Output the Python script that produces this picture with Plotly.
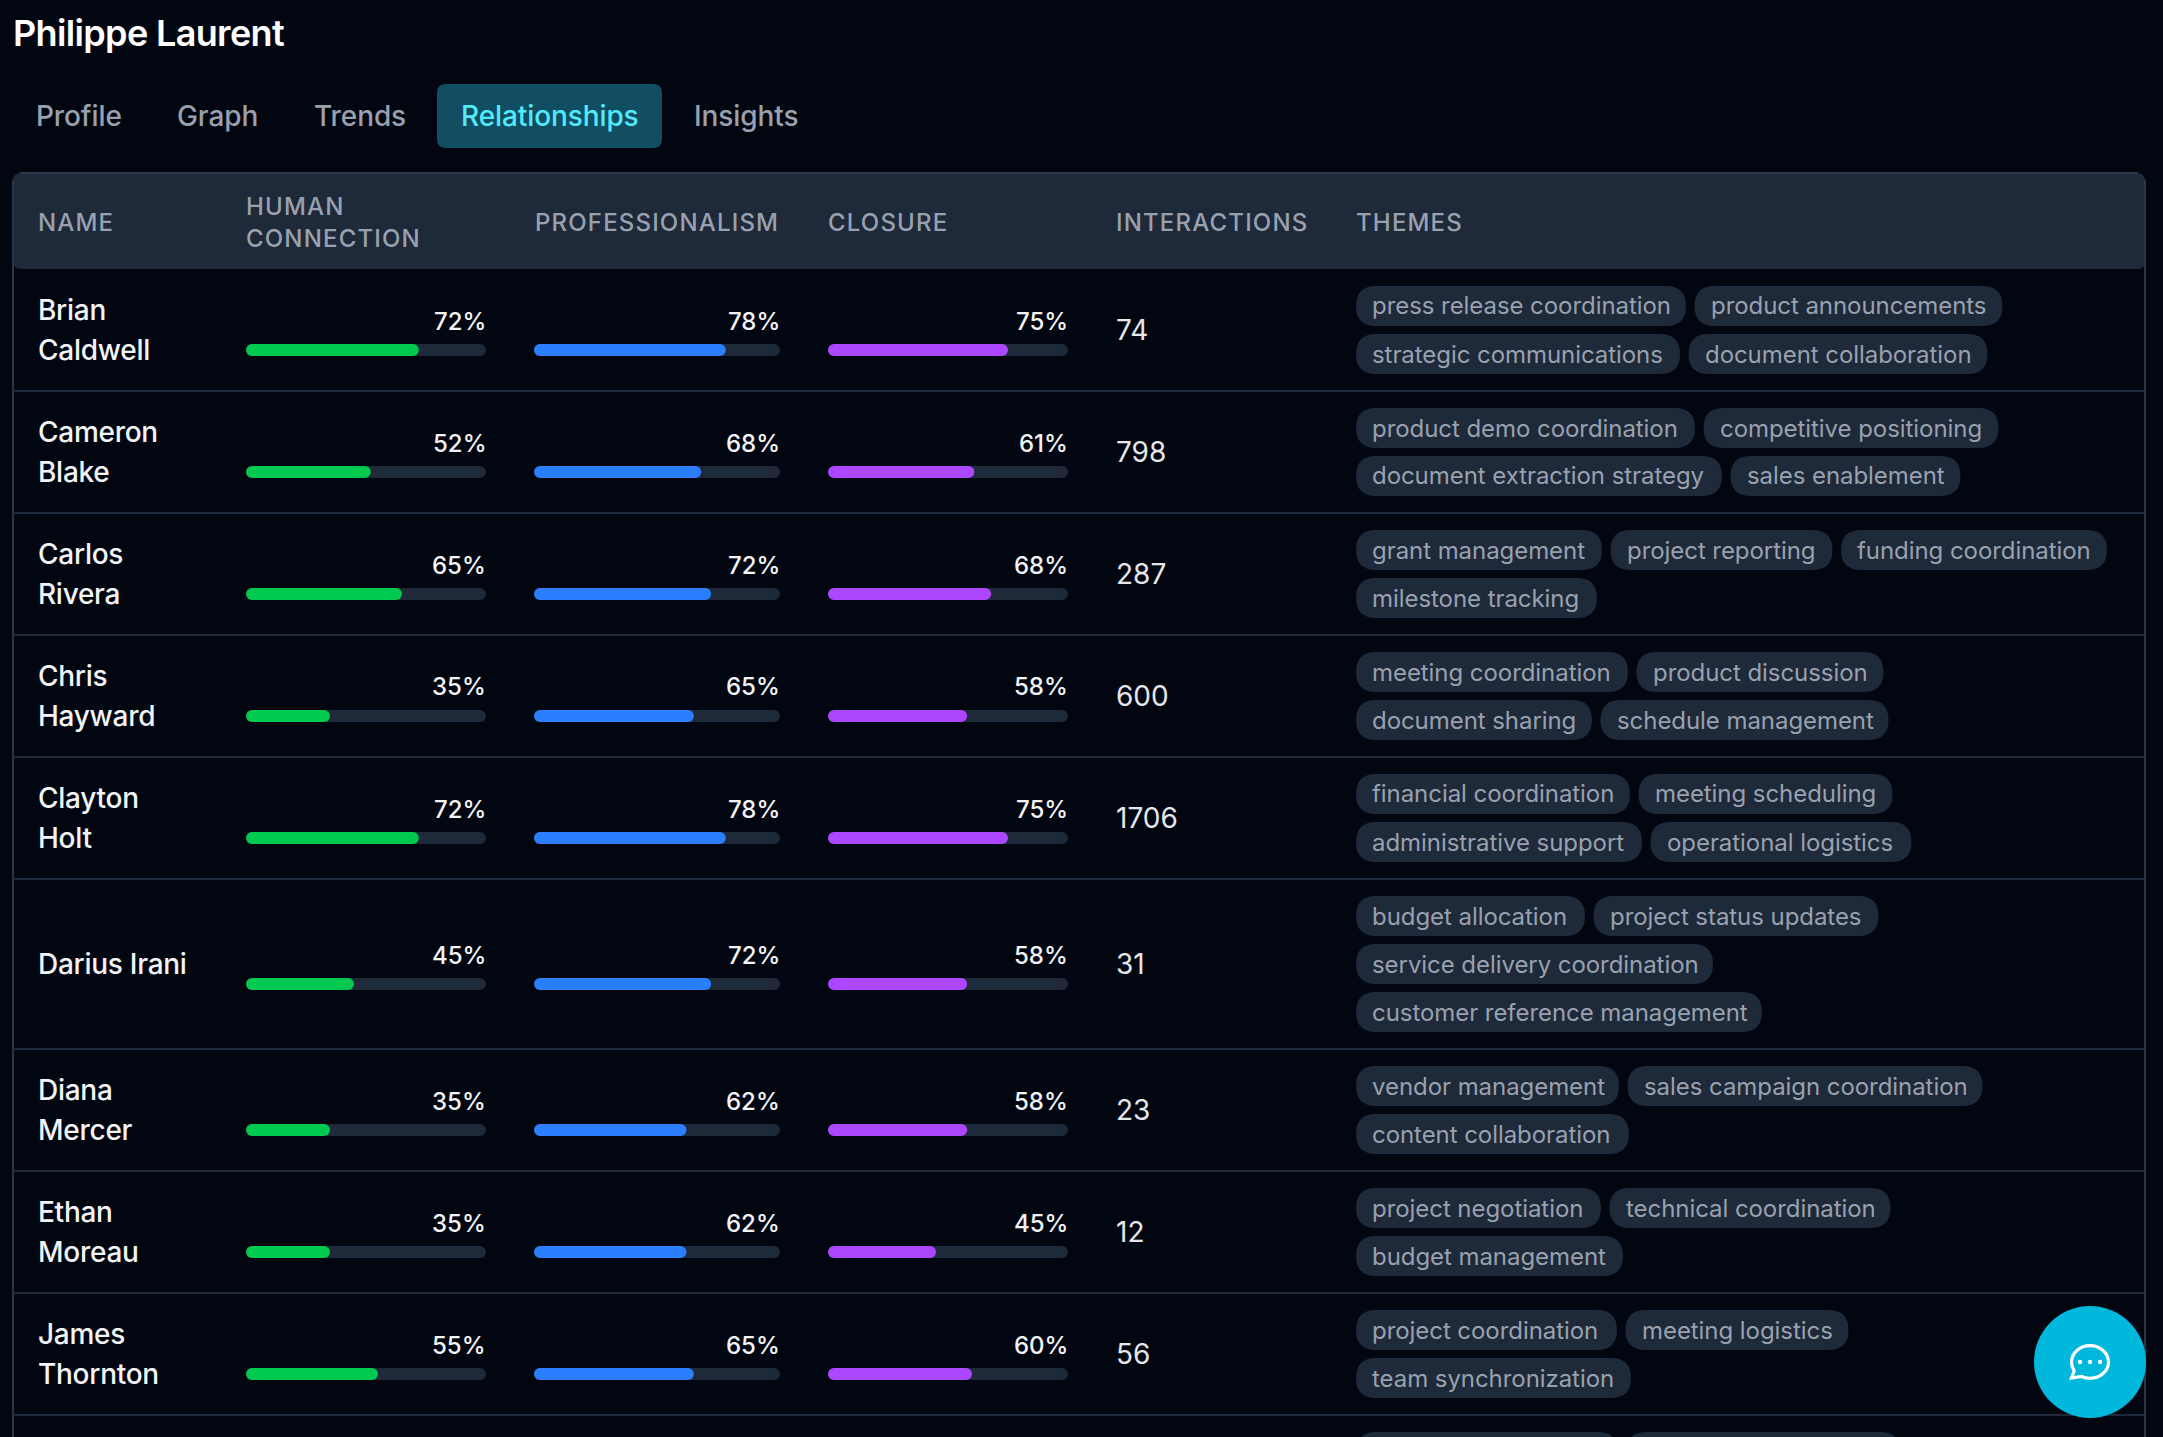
import json
import plotly.graph_objects as go

W, H = 2163, 1437

names = [["Brian", "Caldwell"], ["Cameron", "Blake"], ["Carlos", "Rivera"], ["Chris", "Hayward"],
         ["Clayton", "Holt"], ["Darius Irani"], ["Diana", "Mercer"], ["Ethan", "Moreau"], ["James", "Thornton"]]
human = [72, 52, 65, 35, 72, 45, 35, 35, 55]
professionalism = [78, 68, 72, 65, 78, 72, 62, 62, 65]
closure = [75, 61, 68, 58, 75, 58, 58, 45, 60]
interactions = [74, 798, 287, 600, 1706, 31, 23, 12, 56]
themes = [
    [["press release coordination", "product announcements"], ["strategic communications", "document collaboration"]],
    [["product demo coordination", "competitive positioning"], ["document extraction strategy", "sales enablement"]],
    [["grant management", "project reporting", "funding coordination"], ["milestone tracking"]],
    [["meeting coordination", "product discussion"], ["document sharing", "schedule management"]],
    [["financial coordination", "meeting scheduling"], ["administrative support", "operational logistics"]],
    [["budget allocation", "project status updates"], ["service delivery coordination"], ["customer reference management"]],
    [["vendor management", "sales campaign coordination"], ["content collaboration"]],
    [["project negotiation", "technical coordination"], ["budget management"]],
    [["project coordination", "meeting logistics"], ["team synchronization"]],
]
tabs = ["Profile", "Graph", "Trends", "Relationships", "Insights"]

# layout, all in screenshot pixels
row_lines = [269, 391, 513, 635, 757, 879, 1049, 1171, 1293, 1415]
tab_x = [36, 177, 314, 460.7, 694]
pill_w = [
    [[330, 308], [324, 299]],
    [[339, 295], [366, 230]],
    [[246, 222, 266], [241]],
    [[272, 247], [236, 288]],
    [[274, 254], [286, 261]],
    [[229, 285], [357], [406]],
    [[263, 355], [273]],
    [[245, 281], [267]],
    [[261, 223], [275]],
]
last_row_pills = [262, 274]

BG = "#020611"
HEAD = "#1e2939"
LINE = "#1e2939"
BORDER = "#2b3647"
GREY = "#99a1af"
LIGHT = "#f3f4f6"


def px(x):
    return x / W


def py(y):
    return 1 - y / H


def round_rect(x0, y0, x1, y1, r):
    return (f"M{x0+r},{y0} L{x1-r},{y0} Q{x1},{y0} {x1},{y0+r} L{x1},{y1-r} Q{x1},{y1} {x1-r},{y1} "
            f"L{x0+r},{y1} Q{x0},{y1} {x0},{y1-r} L{x0},{y0+r} Q{x0},{y0} {x0+r},{y0} Z")


shapes = []
notes = []
spacing = {}


def pshape(path, fill, layer="below"):
    shapes.append(dict(type="path", path=path, xref="x9", yref="y", fillcolor=fill, layer=layer, line=dict(width=0)))


def hline(x0, x1, y, color):
    shapes.append(dict(type="line", xref="x9", yref="y", x0=x0, x1=x1, y0=y, y1=y, line=dict(color=color, width=2), layer="below"))


def vline(x, y0, y1, color):
    shapes.append(dict(type="line", xref="x9", yref="y", x0=x, x1=x, y0=y0, y1=y1, line=dict(color=color, width=2), layer="below"))


def label(x, y, text, size=28, color=LIGHT, weight=400, anchor="left", track=None):
    notes.append(dict(xref="paper", yref="paper", x=px(x), y=py(y), text=text, showarrow=False,
                      xanchor=anchor, yanchor="middle", align=anchor, borderpad=0, borderwidth=0,
                      font=dict(family="Inter", size=size, color=color, weight=weight)))
    if track is not None:
        spacing[text] = track


fig = go.Figure()

# progress bars, one x axis per column
# an explicit base array makes plotly round both ends of the bar
row_mid = [(a + b) / 2 for a, b in zip(row_lines[:-1], row_lines[1:])]
bar_y = [m + 20 for m in row_mid]
columns = [("x", human, "#00c950", 246, 486), ("x2", professionalism, "#2b7fff", 534, 780), ("x3", closure, "#ad46ff", 828, 1068)]
for axis, values, color, x0, x1 in columns:
    zeros = [0] * len(values)
    fig.add_trace(go.Bar(x=[100] * len(values), base=zeros, y=bar_y, orientation="h", width=12, xaxis=axis, yaxis="y",
                         marker=dict(color=HEAD, cornerradius=6, line=dict(width=0)), hoverinfo="skip", showlegend=False))
    fig.add_trace(go.Bar(x=values, base=zeros, y=bar_y, orientation="h", width=12, xaxis=axis, yaxis="y",
                         marker=dict(color=color, cornerradius=6, line=dict(width=0)), showlegend=False))
    for m, v in zip(row_mid, values):
        label(x1, m - 9, f"{v}%", size=24, color=LIGHT, weight=500, anchor="right")

# title and tabs
label(12.5, 33, "Philippe Laurent", size=36, color="#ffffff", weight=600, track=-0.65)
pshape(round_rect(437, 84, 662, 148, 9), "#114e61")
for t, x in zip(tabs, tab_x):
    label(x, 116.5, t, size=28, color="#53eafd" if t == "Relationships" else GREY, weight=500, track=-0.1)

# table frame and header
pshape(round_rect(13, 173, 2145, 269, 8), HEAD)
vline(13, 180, H, BORDER)
vline(2145, 180, H, BORDER)
hline(20, 2138, 173, BORDER)
for y in row_lines[1:]:
    hline(13, 2145, y, LINE)

for x, y, t in [(38, 223, "NAME"), (246, 206.5, "HUMAN"), (246, 238.5, "CONNECTION"), (534.5, 223, "PROFESSIONALISM"),
                (828, 223, "CLOSURE"), (1116, 223, "INTERACTIONS"), (1356, 223, "THEMES")]:
    label(x, y, t, size=24, color=GREY, weight=500, track=1.17)

# rows
for i, m in enumerate(row_mid):
    lines = names[i]
    off = [0] if len(lines) == 1 else [-20, 20]
    for t, o in zip(lines, off):
        label(38, m + o, t, size=28, color=LIGHT, weight=500, track=-0.27)
    label(1116, m, str(interactions[i]), size=28, color="#e5e7eb")
    n = len(themes[i])
    top = m - (n * 40 + (n - 1) * 8) / 2
    for j, tags in enumerate(themes[i]):
        x = 1356
        y = top + j * 48
        for t, w in zip(tags, pill_w[i][j]):
            pshape(round_rect(x, y, x + w, y + 40, 20), HEAD)
            label(x + 16, y + 20, t, size=24, color=GREY, track=-0.06)
            x += w + 8.5

x = 1356
for w in last_row_pills:
    pshape(round_rect(x, 1432, x + w, 1472, 20), HEAD)
    x += w + 8.5

# chat button
cx, cy, r = 2090, 1362, 56
shapes.append(dict(type="circle", xref="x9", yref="y", x0=cx - r, x1=cx + r, y0=cy - r, y1=cy + r,
                   fillcolor="#00b8db", line=dict(width=0), layer="above"))
bubble = [("M", 0, 16.3), ("C", 10.2, 16.3, 18.5, 9, 18.5, 0), ("C", 18.5, -9, 10.2, -16.3, 0, -16.3),
          ("C", -10.2, -16.3, -18.5, -9, -18.5, 0), ("C", -18.5, 3.2, -17.5, 6.2, -15.8, 8.8),
          ("L", -18.5, 16), ("L", -8.5, 14.3), ("C", -6, 15.7, -3, 16.3, 0, 16.3)]
bubble_path = ""
for seg in bubble:
    pts = seg[1:]
    coords = " ".join(f"{cx + pts[k]},{cy + pts[k + 1]}" for k in range(0, len(pts), 2))
    bubble_path += f"{seg[0]}{coords} "
shapes.append(dict(type="path", xref="x9", yref="y", path=bubble_path + "Z", fillcolor="rgba(0,0,0,0)",
                   line=dict(color="#ffffff", width=3.2), layer="above"))
for d in (-10, 0, 10):
    shapes.append(dict(type="circle", xref="x9", yref="y", x0=cx + d - 2.2, x1=cx + d + 2.2, y0=cy - 2.2, y1=cy + 2.2,
                       fillcolor="#ffffff", line=dict(width=0), layer="above"))

fig.update_layout(
    width=W, height=H, margin=dict(l=0, r=0, t=0, b=0), paper_bgcolor=BG, plot_bgcolor="rgba(0,0,0,0)",
    barmode="overlay", showlegend=False, shapes=shapes, annotations=notes,
    yaxis=dict(range=[H, 0], domain=[0, 1], visible=False, fixedrange=True),
)
for name, (axis, values, color, x0, x1) in zip(["xaxis", "xaxis2", "xaxis3"], columns):
    fig.update_layout({name: dict(domain=[px(x0), px(x1)], range=[0, 100], visible=False, anchor="y", fixedrange=True)})
fig.update_layout(xaxis9=dict(domain=[0, 1], range=[0, W], visible=False, anchor="y", fixedrange=True))

post = """
document.documentElement.style.background='%s';
document.body.style.margin='0';
document.body.style.background='%s';
var spacing=%s;
document.querySelectorAll('.annotation-text').forEach(function(t){
  var s=spacing[t.textContent];
  if(s!==undefined){t.style.letterSpacing=s+'px';}
});
""" % (BG, BG, json.dumps(spacing))
fig.write_html("out.html", post_script=post, config=dict(displayModeBar=False))
